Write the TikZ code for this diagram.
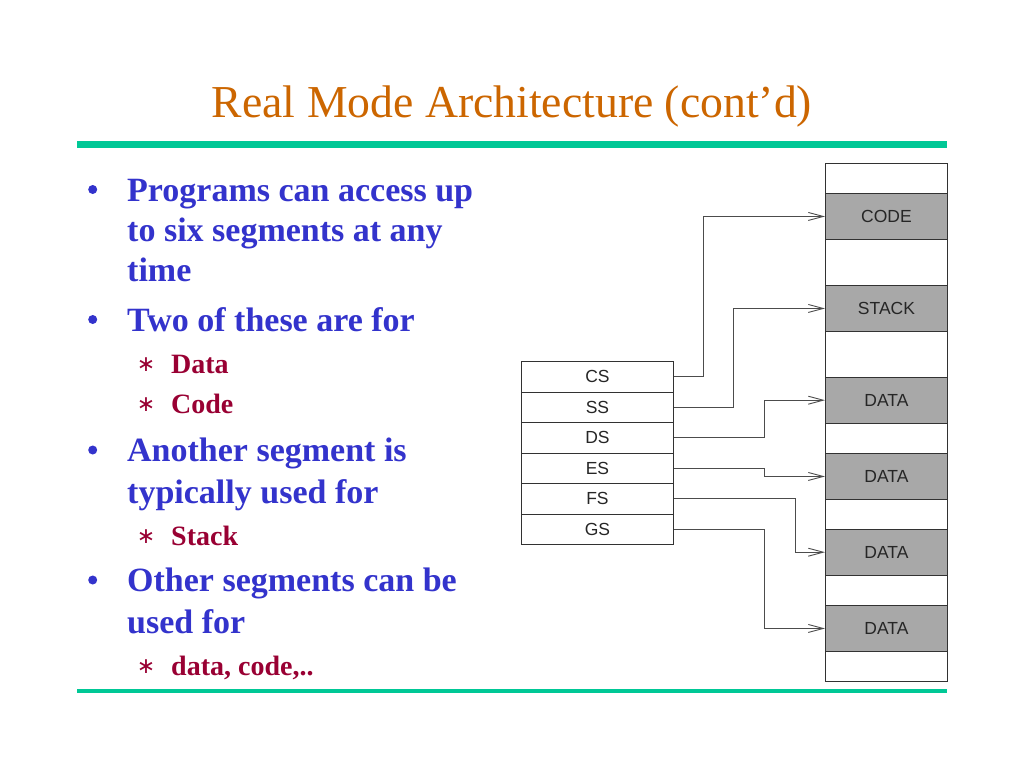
\documentclass[tikz,border=0pt]{standalone}
\usepackage{fontspec}
\setmainfont{Liberation Serif}
\setsansfont{Liberation Sans}
\newfontfamily\djv{DejaVu Sans}
\usetikzlibrary{arrows.meta}
\definecolor{titlecol}{RGB}{204,102,0}
\definecolor{rulecol}{RGB}{0,200,150}
\definecolor{bluecol}{RGB}{51,51,204}
\definecolor{redcol}{RGB}{153,0,51}
\definecolor{segfill}{RGB}{168,168,168}
\definecolor{boxline}{RGB}{50,50,50}
\tikzset{
  bl/.style={anchor=base west, inner sep=0pt, text=bluecol, font=\fontsize{34}{40}\selectfont\bfseries},
  sl/.style={anchor=base west, inner sep=0pt, text=redcol, font=\fontsize{28}{34}\selectfont\bfseries},
  bulletdot/.style={circle, fill=bluecol, inner sep=0pt, minimum size=9pt},
  star/.style={inner sep=0pt, text=redcol, font=\djv\fontsize{22}{22}\selectfont},
  reg/.style={draw=boxline, line width=0.9pt, minimum width=152pt, minimum height=30.5pt, inner sep=0pt, anchor=north west, font=\sffamily\fontsize{17.5}{19}\selectfont, text=black!85},
  mem/.style={draw=boxline, line width=0.9pt, minimum width=122pt, inner sep=0pt, anchor=north west, font=\sffamily\fontsize{17.5}{19}\selectfont, text=black!85},
  gseg/.style={mem, fill=segfill},
  conn/.style={draw=black!70, line width=0.9pt, -{Straight Barb[length=15pt,width=8pt,line width=0.9pt]}},
}
\begin{document}
\begin{tikzpicture}[x=1pt,y=-1pt]
\useasboundingbox (0,0) rectangle (1024,768);
\fill[white] (0,0) rectangle (1024,768);
% title
\node[anchor=base, inner sep=0pt, text=titlecol, font=\fontsize{45.7}{50}\selectfont] (title) at (512,117.7) {Real Mode Architecture (cont’d)};
\fill[rulecol] (77,141) rectangle (947,148);
\fill[rulecol] (77,689) rectangle (947,692.5);
% bullets
\node[bulletdot] (b1) at (92.7,189.5) {};
\node[bl] (t1a) at (127,201) {Programs can access up};
\node[bl] (t1b) at (127,241) {to six segments at any};
\node[bl] (t1c) at (127,281) {time};
\node[bulletdot] (b2) at (92.7,319.5) {};
\node[bl] (t2) at (127,331.7) {Two of these are for};
\node[star] (s1) at (146,364.5) {∗};
\node[sl] (u1) at (171,373) {Data};
\node[star] (s2) at (146,405) {∗};
\node[sl] (u2) at (171,413) {Code};
\node[bulletdot] (b3) at (92.7,450) {};
\node[bl] (t3a) at (127,461.7) {Another segment is};
\node[bl] (t3b) at (127,503) {typically used for};
\node[star] (s3) at (146,537) {∗};
\node[sl] (u3) at (171,545) {Stack};
\node[bulletdot] (b4) at (92.7,580) {};
\node[bl] (t4a) at (127,591.7) {Other segments can be};
\node[bl] (t4b) at (127,633) {used for};
\node[star] (s4) at (146,667) {∗};
\node[sl] (u4) at (171,675) {data, code,..};
% registers
\node[reg] (cs) at (521,361) {CS};
\node[reg] (ss) at (521,391.5) {SS};
\node[reg] (ds) at (521,422) {DS};
\node[reg] (es) at (521,452.5) {ES};
\node[reg] (fs) at (521,483) {FS};
\node[reg] (gs) at (521,513.5) {GS};
% memory
\node[mem, minimum height=30pt] (w0) at (825,163) {};
\node[gseg, minimum height=46pt] (code) at (825,193) {CODE};
\node[mem, minimum height=46pt] (w1) at (825,239) {};
\node[gseg, minimum height=46pt] (stack) at (825,285) {STACK};
\node[mem, minimum height=46pt] (w2) at (825,331) {};
\node[gseg, minimum height=45.5pt] (d1) at (825,377) {DATA};
\node[mem, minimum height=30.5pt] (w3) at (825,422.5) {};
\node[gseg, minimum height=46pt] (d2) at (825,453) {DATA};
\node[mem, minimum height=30pt] (w4) at (825,499) {};
\node[gseg, minimum height=45.5pt] (d3) at (825,529) {DATA};
\node[mem, minimum height=30.5pt] (w5) at (825,574.5) {};
\node[gseg, minimum height=46pt] (d4) at (825,605) {DATA};
\node[mem, minimum height=30pt] (w6) at (825,651) {};
% connectors
\draw[conn] (cs.east) -- ++(30,0) |- (code.west);
\draw[conn] (ss.east) -- ++(60,0) |- (stack.west);
\draw[conn] (ds.east) -- ++(91,0) |- (d1.west);
\draw[conn] (es.east) -- ++(91,0) |- (d2.west);
\draw[conn] (fs.east) -- ++(122,0) |- (d3.west);
\draw[conn] (gs.east) -- ++(91,0) |- (d4.west);
\end{tikzpicture}
\end{document}
